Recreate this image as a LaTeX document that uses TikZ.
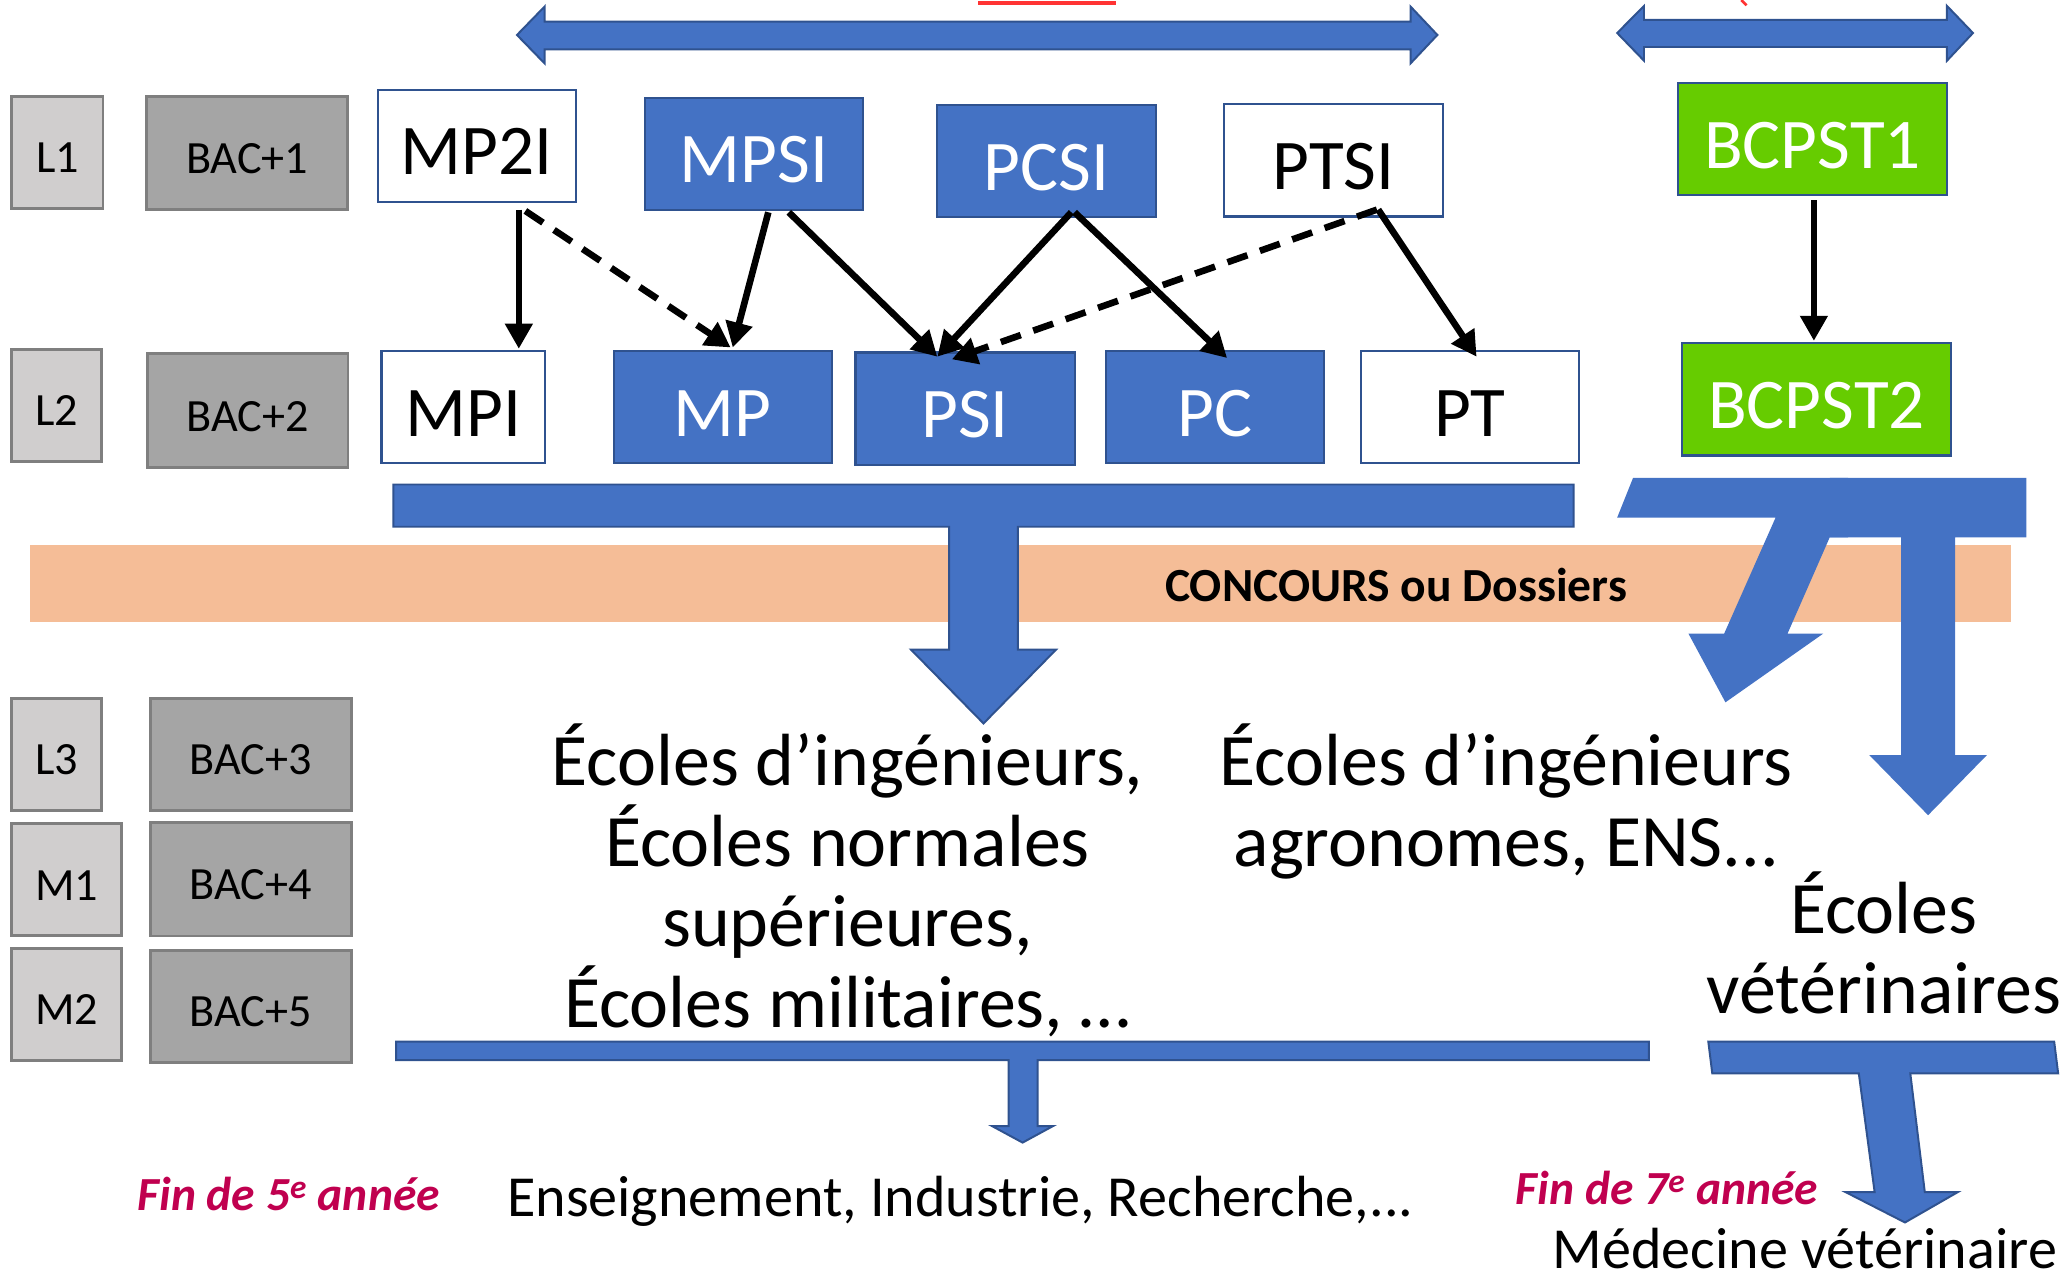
\documentclass[tikz,border=0pt]{standalone}
\usepackage{fontspec}
\setmainfont{Carlito}
\usetikzlibrary{arrows.meta}
\definecolor{bfill}{HTML}{4472C4}
\definecolor{bdark}{HTML}{2F528F}
\definecolor{lgray}{HTML}{D0CECE}
\definecolor{dgray}{HTML}{A5A5A5}
\definecolor{grayb}{HTML}{7F7F7F}
\definecolor{greenbx}{HTML}{66CC00}
\definecolor{band}{HTML}{F5BD97}
\definecolor{crimson}{HTML}{C0004F}
\definecolor{redl}{HTML}{FF3333}
\begin{document}
\begin{tikzpicture}[x=1pt,y=-1pt,
  lbl/.style={rectangle, inner sep=0pt, line width=2.2pt, draw=grayb, text height=31pt, text depth=0pt, font=\fontsize{35}{38}\selectfont},
  lgbox/.style={lbl, fill=lgray},
  dgbox/.style={lbl, fill=dgray},
  prog/.style={rectangle, inner sep=0pt, line width=1.6pt, draw=bdark, text height=44pt, text depth=0pt, font=\fontsize{54}{60}\selectfont, minimum height=85pt},
  bluebox/.style={prog, fill=bfill, text=white},
  whitebox/.style={prog, fill=white, text=black},
  greenbox/.style={prog, fill=greenbx, text=white},
  conn/.style={line width=5pt, -{Triangle[length=19pt,width=20pt]}},
  dconn/.style={conn, dash pattern=on 16pt off 10pt},
  bigarrow/.style={fill=bfill, draw=bdark, line width=1.5pt, line join=miter},
  flatarrow/.style={fill=bfill},
  bigtext/.style={align=center, anchor=base, font=\fontsize{56}{61}\selectfont},
  midtext/.style={anchor=base west, inner sep=0pt, text depth=0pt, font=\fontsize{44}{50}\selectfont},
  redtext/.style={anchor=base west, inner sep=0pt, text=crimson, font=\fontsize{36}{40}\selectfont\bfseries\itshape}
]
\useasboundingbox (0,0) rectangle (1568,971);

% top partial marks
\draw[redl, line width=3pt] (741,2) -- (845,2);
\draw[redl, line width=2pt] (1319,0) -- (1323,4);

% top double arrows
\filldraw[bigarrow] (391.6,26.5) -- (412.5,5) -- (412.5,16.4) -- (1068.5,16.4) -- (1068.5,5) -- (1088.8,26.5) -- (1068.5,48) -- (1068.5,37.4) -- (412.5,37.4) -- (412.5,48) -- cycle;
\filldraw[bigarrow] (1225,25) -- (1245.3,4.5) -- (1245.3,15) -- (1474.8,15) -- (1474.8,4.5) -- (1494.5,25) -- (1474.8,46) -- (1474.8,35.6) -- (1245.3,35.6) -- (1245.3,46) -- cycle;

% left column
\node[lgbox, minimum width=69pt, minimum height=85pt] (l1) at (43.5,115.5) {L1};
\node[dgbox, minimum width=152pt, minimum height=86pt] (bac1) at (187.3,116) {BAC+1};
\node[lgbox, minimum width=68pt, minimum height=85pt] (l2) at (43,307) {L2};
\node[dgbox, minimum width=152pt, minimum height=86pt] (bac2) at (187.6,311) {BAC+2};
\node[lgbox, minimum width=68pt, minimum height=85pt] (l3) at (43,571.5) {L3};
\node[dgbox, minimum width=152pt, minimum height=85pt] (bac3) at (190,571.5) {BAC+3};
\node[lgbox, minimum width=83pt, minimum height=85pt] (m1) at (50.5,666.3) {M1};
\node[dgbox, minimum width=152pt, minimum height=86pt] (bac4) at (190,666) {BAC+4};
\node[lgbox, minimum width=83pt, minimum height=85pt] (m2) at (50.5,760.8) {M2};
\node[dgbox, minimum width=152pt, minimum height=85pt] (bac5) at (190,762.3) {BAC+5};

% first year
\node[whitebox, minimum width=150pt] (mp2i) at (361,110.5) {MP2I};
\node[bluebox, minimum width=165pt] (mpsi) at (571,116.5) {MPSI};
\node[bluebox, minimum width=166pt] (pcsi) at (792.5,122) {PCSI};
\node[whitebox, minimum width=166pt] (ptsi) at (1010,121.5) {PTSI};
\node[greenbox, minimum width=204pt] (bcpst1) at (1373,105.5) {BCPST1};

% second year
\node[whitebox, minimum width=124pt] (mpi) at (351,308.5) {MPI};
\node[bluebox, minimum width=165pt] (mp) at (547.5,308.5) {MP};
\node[bluebox, minimum width=166pt] (psi) at (731,309.5) {PSI};
\node[bluebox, minimum width=165pt] (pc) at (920.5,308.5) {PC};
\node[whitebox, minimum width=165pt] (pt) at (1113.5,308.5) {PT};
\node[greenbox, minimum width=204pt] (bcpst2) at (1376,302.5) {BCPST2};

% connectors
\draw[conn] ([xshift=32pt,yshift=-5pt]mp2i.south) -- ([xshift=42pt,yshift=1pt]mpi.north);
\draw[dconn] ([xshift=37pt,yshift=-6pt]mp2i.south) -- ([xshift=6pt,yshift=2pt]mp.north);
\draw[conn] ([xshift=11pt,yshift=-1pt]mpsi.south) -- ([xshift=7.5pt,yshift=2pt]mp.north);
\draw[conn] ([xshift=26.5pt,yshift=-1pt]mpsi.south) -- ([xshift=-21pt,yshift=-4pt]psi.north);
\draw[conn] ([xshift=19pt,yshift=4.5pt]pcsi.south) -- ([xshift=-21pt,yshift=-4pt]psi.north);
\draw[conn] ([xshift=21.5pt,yshift=4.5pt]pcsi.south) -- ([xshift=9pt,yshift=-6pt]pc.north);
\draw[dconn] ([xshift=33pt,yshift=6pt]ptsi.south) -- ([xshift=-10pt,yshift=-6pt]psi.north);
\draw[conn] ([xshift=34pt,yshift=6pt]ptsi.south) -- ([xshift=5pt,yshift=-5pt]pt.north);
\draw[conn] ([xshift=1pt,yshift=-3pt]bcpst1.south) -- ([xshift=-2pt,yshift=1pt]bcpst2.north);

% concours band
\fill[band] (23,413) rectangle (1523,471);
\node[anchor=base, font=\fontsize{36}{40}\selectfont\bfseries] (concours) at (1057.5,456) {CONCOURS ou Dossiers};

% big arrows
\filldraw[bigarrow] (298,367) -- (1192,367) -- (1192,399) -- (771,399) -- (771,492) -- (800,492) -- (745,548) -- (690,492) -- (719,492) -- (719,399) -- (298,399) -- cycle;
\fill[flatarrow] (1237,362) -- (1400,362) -- (1400,407) -- (1386,407) -- (1354,480) -- (1381,480) -- (1307,532) -- (1279,480) -- (1306,480) -- (1345,392) -- (1225,392) -- cycle;
\fill[flatarrow] (1386,362) -- (1535,362) -- (1535,407) -- (1481,407) -- (1481,572) -- (1505,572) -- (1460.5,617.5) -- (1416,572) -- (1440,572) -- (1440,407) -- (1386,407) -- cycle;
\filldraw[bigarrow] (300,789) -- (1249,789) -- (1249,803) -- (786,803) -- (786,853) -- (797.6,853) -- (774.6,865.5) -- (751.5,853) -- (764,853) -- (764,803) -- (300,803) -- cycle;
\filldraw[bigarrow] (1294,789) -- (1556,789) -- (1559,813) -- (1447,813) -- (1458,903) -- (1483,903) -- (1443,926) -- (1398,903) -- (1420,903) -- (1408,813) -- (1297,813) -- cycle;

% destination texts (anchor = baseline of last line)
\node[bigtext] (ecoles) at (642,778) {Écoles d’ingénieurs,\\Écoles normales\\supérieures,\\Écoles militaires, …};
\node[bigtext] (agro) at (1141,656) {Écoles d’ingénieurs\\agronomes, ENS...};
\node[bigtext] (veto) at (1427,768) {Écoles\\vétérinaires};

% bottom texts
\node[redtext] (fin5) at (104,917) {Fin de 5\textsuperscript{e} année};
\node[midtext] (debouches) at (384,921.6) {Enseignement, Industrie, Recherche,...};
\node[redtext] (fin7) at (1148,912.7) {Fin de 7\textsuperscript{e} année};
\node[midtext] (medvet) at (1176,961) {Médecine vétérinaire};
\end{tikzpicture}
\end{document}
